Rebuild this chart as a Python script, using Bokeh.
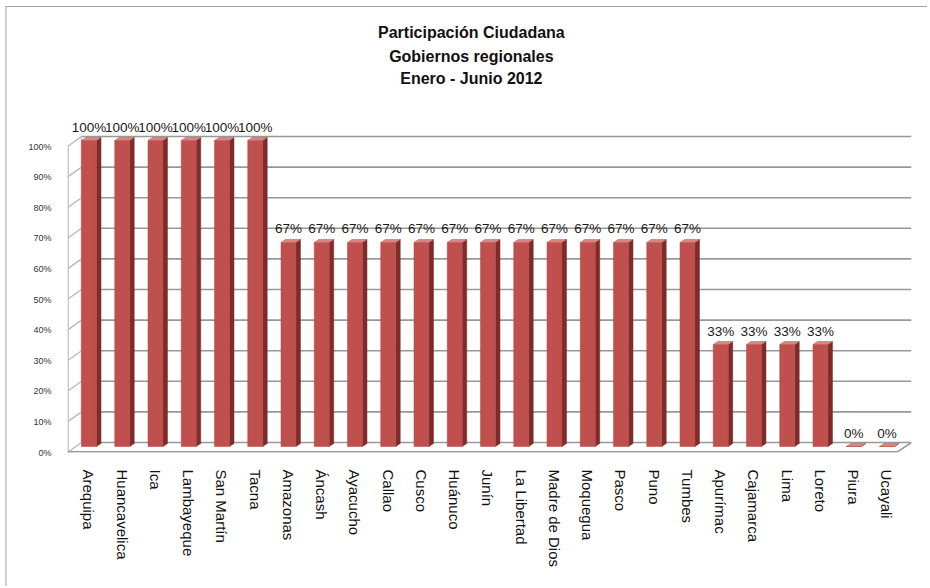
from bokeh.plotting import figure
from bokeh.models import Range1d, FixedTicker, ColumnDataSource
from bokeh.core.properties import value
from bokeh.embed import file_html
from bokeh.resources import INLINE

# ---------------- data ----------------
regions = ["Arequipa", "Huancavelica", "Ica", "Lambayeque", "San Martín", "Tacna",
           "Amazonas", "Áncash", "Ayacucho", "Callao", "Cusco", "Huánuco", "Junín",
           "La Libertad", "Madre de Dios", "Moquegua", "Pasco", "Puno", "Tumbes",
           "Apurímac", "Cajamarca", "Lima", "Loreto", "Piura", "Ucayali"]
participation = [1.0, 1.0, 1.0, 1.0, 1.0, 1.0,
                 0.6667, 0.6667, 0.6667, 0.6667, 0.6667, 0.6667, 0.6667,
                 0.6667, 0.6667, 0.6667, 0.6667, 0.6667, 0.6667,
                 0.3333, 0.3333, 0.3333, 0.3333, 0.0, 0.0]
y_ticks = [0.0, 0.1, 0.2, 0.3, 0.4, 0.5, 0.6, 0.7, 0.8, 0.9, 1.0]
title_lines = ["Participación Ciudadana", "Gobiernos regionales", "Enero - Junio 2012"]

# ---------------- style constants ----------------
W, H = 922, 580
PX_X = 33.25          # px per category
PX_Y = 306.0          # px per 100%
X0, X1 = -0.6466, 24.737
Y0, Y1 = 0.0, 445 / PX_Y
WALL_DX, WALL_DY = 14 / PX_X, 10 / PX_Y     # depth of the 3-D box
BAR_DY = 6 / PX_Y                            # bars sit a bit behind the front plane
BAR_HALF = 7.5 / PX_X
SIDE_DX, SIDE_DY = 4.5 / PX_X, 3 / PX_Y
FRONT, SIDE, TOP = "#C0504D", "#7E2C2A", "#D88583"
GRID = "#989898"
FONT = "Liberation Sans"

p = figure(width=W, height=H, output_backend="svg", toolbar_location=None,
           x_range=Range1d(X0, X1), y_range=Range1d(Y0, Y1),
           min_border_left=60, min_border_right=18, min_border_top=0,
           min_border_bottom=H - 445)
p.outline_line_color = None
p.xgrid.visible = False
p.ygrid.visible = False
p.background_fill_color = "white"
p.border_fill_color = "white"
p.styles = {"border-left": "2px solid #d0d0d0", "border-top": "1px solid #a0a0a0",
            "margin-left": "5px", "margin-top": "6px"}

# ---------------- 3-D walls ----------------
xb = X0 + WALL_DX
# back wall grid lines
p.segment(x0=[xb] * len(y_ticks), y0=[t + WALL_DY for t in y_ticks],
          x1=[X1] * len(y_ticks), y1=[t + WALL_DY for t in y_ticks],
          line_color=GRID, line_width=1.6)
# left wall diagonals
p.segment(x0=[X0] * len(y_ticks), y0=y_ticks,
          x1=[xb] * len(y_ticks), y1=[t + WALL_DY for t in y_ticks],
          line_color="#b8b8b8", line_width=1.3)
# left wall edges
p.segment(x0=[X0 + 0.02, xb], y0=[0, WALL_DY], x1=[X0 + 0.02, xb],
          y1=[y_ticks[-1], y_ticks[-1] + WALL_DY], line_color="#c4c4c4", line_width=1.6)
# floor front edge
p.segment(x0=[X0, X1 - WALL_DX], y0=[0.002, 0.002], x1=[X1 - WALL_DX, X1],
          y1=[0.002, WALL_DY], line_color=GRID, line_width=1.6)

# ---------------- bars ----------------
xs = list(range(len(regions)))
tops = [v + BAR_DY for v in participation]
src = ColumnDataSource(dict(
    x=xs, top=tops, bottom=[BAR_DY] * len(xs),
    left=[x - BAR_HALF for x in xs], right=[x + BAR_HALF for x in xs],
    side_xs=[[x + BAR_HALF, x + BAR_HALF + SIDE_DX, x + BAR_HALF + SIDE_DX, x + BAR_HALF] for x in xs],
    side_ys=[[BAR_DY, BAR_DY + SIDE_DY, t + SIDE_DY, t] for t in tops],
    top_xs=[[x - BAR_HALF, x + BAR_HALF, x + BAR_HALF + SIDE_DX, x - BAR_HALF + SIDE_DX] for x in xs],
    top_ys=[[t, t, t + SIDE_DY, t + SIDE_DY] for t in tops],
    label=[f"{round(v * 100):d}%" for v in participation],
    label_y=[t + SIDE_DY + 3 / PX_Y for t in tops],
))
p.patches(xs="side_xs", ys="side_ys", source=src, fill_color=SIDE, line_color=SIDE, line_width=0.5)
p.quad(left="left", right="right", bottom="bottom", top="top", source=src,
       fill_color=FRONT, line_color="#B04643", line_width=0.5)
p.patches(xs="top_xs", ys="top_ys", source=src, fill_color=TOP, line_color="#B9504D", line_width=0.5)

p.text(x="x", y="label_y", text="label", source=src, text_align="center",
       text_baseline="bottom", text_font=value(FONT), text_font_size="13.5px",
       text_color="#1a1a1a")

# ---------------- title ----------------
title_y = [1.3725, 1.294, 1.221]
p.text(x=[11.5] * 3, y=title_y, text=title_lines, text_align="center",
       text_baseline="middle", text_font=value(FONT), text_font_size="16px",
       text_font_style="bold", text_color="#111111")

# ---------------- axes ----------------
p.yaxis.ticker = FixedTicker(ticks=y_ticks)
p.yaxis.major_label_overrides = {t: f"{round(t * 100):d}%" for t in y_ticks}
p.yaxis.axis_line_color = None
p.yaxis.major_tick_line_color = None
p.yaxis.minor_tick_line_color = None
p.yaxis.major_label_standoff = 10
p.yaxis.major_label_text_font = FONT
p.yaxis.major_label_text_font_size = "9px"
p.yaxis.major_label_text_color = "#333333"

p.xaxis.ticker = FixedTicker(ticks=xs)
p.xaxis.major_label_overrides = {i: name for i, name in enumerate(regions)}
p.xaxis.major_label_orientation = "vertical"
p.xaxis.axis_line_color = None
p.xaxis.major_tick_line_color = None
p.xaxis.minor_tick_line_color = None
p.xaxis.major_label_standoff = 11
p.xaxis.major_label_text_font = FONT
p.xaxis.major_label_text_font_size = "15px"
p.xaxis.major_label_text_color = "#111111"

open("out.html", "w").write(file_html(p, INLINE))
